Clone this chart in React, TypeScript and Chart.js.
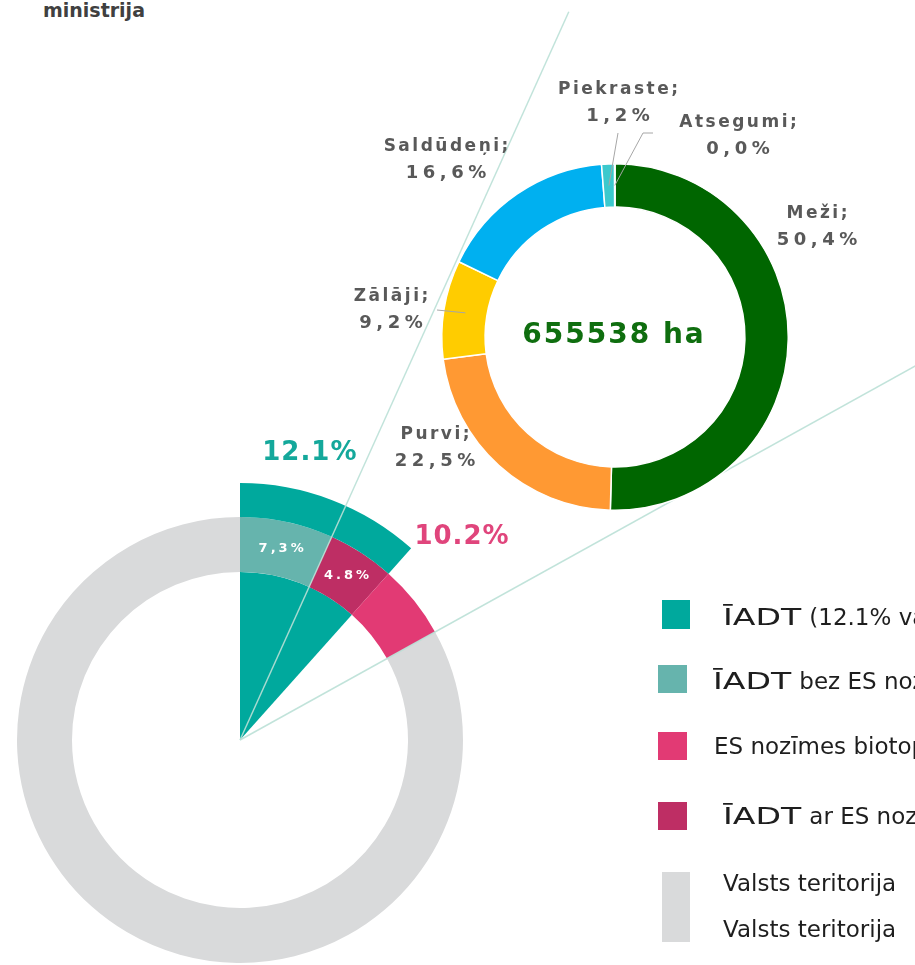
import React, { useEffect, useRef } from "react";
import { Chart, registerables } from "chart.js";

Chart.register(...registerables);

// ---------------- DATA ----------------
// Lower chart: share of the state territory (%), as drawn
const iadtShare = [11.6, 88.4]; // ĪADT slice, remainder
const ringCategories = [
  "ĪADT bez ES nozīmes biotopiem",
  "ĪADT ar ES nozīmes biotopiem",
  "ES nozīmes biotopi ārpus ĪADT",
  "Pārējā valsts teritorija",
];
const ringValues = [6.75, 4.85, 5.35, 83.05];
const iadtLabelText = "12.1%";
const esLabelText = "10.2%";
const ringLabelTexts = ["7,3%", "4.8%"];

// Upper chart: composition of ES habitats
const habitatCategories = ["Meži;", "Purvi;", "Zālāji;", "Saldūdeņi;", "Piekraste;", "Atsegumi;"];
const habitatValues = [50.4, 22.5, 9.2, 16.6, 1.2, 0.04];
const habitatPercentTexts = ["50,4%", "22,5%", "9,2%", "16,6%", "1,2%", "0,0%"];
const totalAreaText = "655538 ha";

// Legend: [prefix drawn wide, rest]
const legendLines: string[][][] = [
  [["ĪADT", " (12.1% valsts teritorijas)"]],
  [["ĪADT", " bez ES nozīmes biotopiem"]],
  [["", "ES nozīmes biotopi (10.2% valsts teritorijas)"]],
  [["ĪADT", " ar ES nozīmes biotopiem"]],
  [["", "Valsts teritorija"], ["", "Valsts teritorija"]],
];
const logoText = "ministrija";

// ---------------- STYLE / LAYOUT ----------------
const TEAL = "#00a99d";
const LIGHT_TEAL = "#66b4ad";
const DARK_MAGENTA = "#be2e64";
const PINK = "#e23a74";
const GRAY = "#d9dadb";
const HABITAT_COLORS = ["#006600", "#ff9933", "#ffcc00", "#00b0f0", "#3cc9cd", "#8c6d3f"];
const LEGEND_COLORS = [TEAL, LIGHT_TEAL, PINK, DARK_MAGENTA, GRAY];

const FONT = "'DejaVu Sans', Verdana, sans-serif";
const LABEL_GRAY = "#595959";

// ring thickness weights (outer teal band, territory ring, inner teal wedge)
const LOWER_WEIGHTS = [34, 55, 168];

// text placements (polar: degrees clockwise from top, radius from centre)
const iadtLabelPolar = { deg: 13.6, r: 295 };
const esLabelPolar = { deg: 47.6, r: 300 };

// upper labels: offset of the two-line label block centre from the chart centre
const habitatLabelOffsets = [
  [202, -110],
  [-180, 111],
  [-224, -27],
  [-169, -177],
  [3, -234],
  [123, -201],
];
// leader lines: start points relative to label block centre (null = none)
const habitatLeaders: (number[][] | null)[] = [
  null,
  null,
  [[46, 0]],
  null,
  [[0, 30]],
  [[-85, -3], [-95, -3]],
];

const legendSwatches = [
  { x: 662, y: 600, w: 28, h: 29 },
  { x: 658, y: 665, w: 29, h: 28 },
  { x: 658, y: 732, w: 29, h: 28 },
  { x: 658, y: 802, w: 29, h: 28 },
  { x: 662, y: 872, w: 28, h: 70 },
];
const legendTextPos = [
  { x: 723, ys: [617] },
  { x: 713, ys: [681] },
  { x: 714, ys: [746] },
  { x: 723, ys: [816] },
  { x: 723, ys: [882.5, 929] },
];

function drawText(
  ctx: CanvasRenderingContext2D,
  text: string,
  x: number,
  y: number,
  font: string,
  color: string,
  spacing: number
) {
  ctx.save();
  ctx.font = font;
  ctx.fillStyle = color;
  ctx.textAlign = "center";
  ctx.textBaseline = "middle";
  (ctx as any).letterSpacing = spacing + "px";
  ctx.fillText(text, x + spacing / 2, y);
  ctx.restore();
}

function polar(cx: number, cy: number, deg: number, r: number) {
  const a = (deg * Math.PI) / 180;
  return { x: cx + r * Math.sin(a), y: cy - r * Math.cos(a) };
}

const lowerPlugin = {
  id: "lowerDecor",
  afterDatasetsDraw(chart: any) {
    const ctx: CanvasRenderingContext2D = chart.ctx;
    const ring = chart.getDatasetMeta(1).data;
    const first: any = ring[1]; // ĪADT with ES habitats: start of ES sector
    const last: any = ring[2]; // ES habitats outside ĪADT: end of ES sector
    const cx = first.x;
    const cy = first.y;
    // guide lines along the edges of the ES habitat sector
    ctx.save();
    ctx.strokeStyle = "rgba(186, 224, 214, 0.9)";
    ctx.lineWidth = 1.5;
    const lens = [799, 1100];
    [first.startAngle, last.endAngle].forEach((a: number, i: number) => {
      ctx.beginPath();
      ctx.moveTo(cx, cy);
      ctx.lineTo(cx + Math.cos(a) * lens[i], cy + Math.sin(a) * lens[i]);
      ctx.stroke();
    });
    ctx.restore();

    // small labels inside the ring
    ringLabelTexts.forEach((t, i) => {
      const p = ring[i].getCenterPoint();
      drawText(ctx, t, p.x, p.y, `bold 13px ${FONT}`, "#ffffff", 3);
    });
    // big percentage labels
    const p1 = polar(cx, cy, iadtLabelPolar.deg, iadtLabelPolar.r);
    drawText(ctx, iadtLabelText, p1.x, p1.y, `bold 26px ${FONT}`, "#14a89b", 1);
    const p2 = polar(cx, cy, esLabelPolar.deg, esLabelPolar.r);
    drawText(ctx, esLabelText, p2.x, p2.y, `bold 26px ${FONT}`, "#e0457c", 1);
  },
};

const upperPlugin = {
  id: "upperDecor",
  afterDatasetsDraw(chart: any) {
    const ctx: CanvasRenderingContext2D = chart.ctx;
    const arcs = chart.getDatasetMeta(0).data;
    const cx = arcs[0].x;
    const cy = arcs[0].y;
    const midR = (arcs[0].innerRadius + arcs[0].outerRadius) / 2;

    habitatCategories.forEach((name, i) => {
      const [ox, oy] = habitatLabelOffsets[i];
      const lx = cx + ox;
      const ly = cy + oy;
      const leader = habitatLeaders[i];
      if (leader) {
        const a: any = arcs[i];
        const mid = (a.startAngle + a.endAngle) / 2;
        ctx.save();
        ctx.strokeStyle = "#a6a6a6";
        ctx.lineWidth = 1;
        ctx.beginPath();
        leader.forEach(([dx, dy], k) => {
          if (k === 0) ctx.moveTo(lx + dx, ly + dy);
          else ctx.lineTo(lx + dx, ly + dy);
        });
        ctx.lineTo(cx + Math.cos(mid) * midR, cy + Math.sin(mid) * midR);
        ctx.stroke();
        ctx.restore();
      }
      drawText(ctx, name, lx, ly - 13.5, `bold 17px ${FONT}`, LABEL_GRAY, 2.5);
      drawText(ctx, habitatPercentTexts[i], lx, ly + 13.5, `bold 18px ${FONT}`, LABEL_GRAY, 4.5);
    });

    drawText(ctx, totalAreaText, cx - 2, cy - 1, `bold 28px ${FONT}`, "#0f6e0f", 2);
  },
};

export default function App() {
  const lowerRef = useRef<HTMLCanvasElement>(null);
  const upperRef = useRef<HTMLCanvasElement>(null);

  useEffect(() => {
    const lower = new Chart(lowerRef.current as HTMLCanvasElement, {
      type: "doughnut",
      data: {
        labels: ringCategories,
        datasets: [
          {
            data: iadtShare,
            backgroundColor: [TEAL, "rgba(0,0,0,0)"],
            borderWidth: 0,
            weight: LOWER_WEIGHTS[0],
          } as any,
          {
            data: ringValues,
            backgroundColor: [LIGHT_TEAL, DARK_MAGENTA, PINK, GRAY],
            borderWidth: 0,
            weight: LOWER_WEIGHTS[1],
          },
          {
            data: iadtShare,
            backgroundColor: [TEAL, "rgba(0,0,0,0)"],
            borderWidth: 0,
            weight: LOWER_WEIGHTS[2],
          },
        ],
      },
      options: {
        responsive: false,
        animation: false,
        cutout: 0,
        events: [],
        layout: { padding: { left: 23, top: 483, right: 418, bottom: 43 } },
        plugins: { legend: { display: false }, tooltip: { enabled: false } },
      } as any,
      plugins: [lowerPlugin],
    });

    const upper = new Chart(upperRef.current as HTMLCanvasElement, {
      type: "doughnut",
      data: {
        labels: habitatCategories,
        datasets: [
          {
            data: habitatValues,
            backgroundColor: HABITAT_COLORS,
            borderColor: "#ffffff",
            borderWidth: 1.5,
          },
        ],
      },
      options: {
        responsive: false,
        animation: false,
        cutout: "75%",
        events: [],
        layout: { padding: { left: 441, top: 163, right: 126, bottom: 454 } },
        plugins: { legend: { display: false }, tooltip: { enabled: false } },
      } as any,
      plugins: [upperPlugin],
    });

    return () => {
      lower.destroy();
      upper.destroy();
    };
  }, []);

  return (
    <div
      style={{
        position: "absolute",
        left: 0,
        top: 0,
        width: 915,
        height: 965,
        overflow: "hidden",
        background: "#ffffff",
      }}
    >
      <div
        style={{
          position: "absolute",
          left: 43,
          top: 1,
          font: `bold 19px ${FONT}`,
          lineHeight: "19px",
          color: "#404040",
          whiteSpace: "nowrap",
        }}
      >
        {logoText}
      </div>
      <canvas
        ref={lowerRef}
        width={955}
        height={1040}
        style={{ position: "absolute", left: -40, top: 0 }}
      />
      <canvas
        ref={upperRef}
        width={915}
        height={965}
        style={{ position: "absolute", left: 0, top: 0 }}
      />
      {legendSwatches.map((s, i) => (
        <div
          key={"sw" + i}
          style={{
            position: "absolute",
            left: s.x,
            top: s.y,
            width: s.w,
            height: s.h,
            background: LEGEND_COLORS[i],
          }}
        />
      ))}
      {legendLines.map((lines, i) =>
        lines.map(([wide, rest], k) => (
          <div
            key={"lg" + i + "_" + k}
            style={{
              position: "absolute",
              left: legendTextPos[i].x,
              top: legendTextPos[i].ys[k] - 11,
              font: `23px ${FONT}`,
              lineHeight: "23px",
              color: "#1e1e1e",
              whiteSpace: "nowrap",
            }}
          >
            {wide ? (
              <span
                style={{
                  display: "inline-block",
                  width: 79,
                  transform: "scaleX(1.44)",
                  transformOrigin: "left center",
                }}
              >
                {wide}
              </span>
            ) : null}
            {rest}
          </div>
        ))
      )}
    </div>
  );
}
